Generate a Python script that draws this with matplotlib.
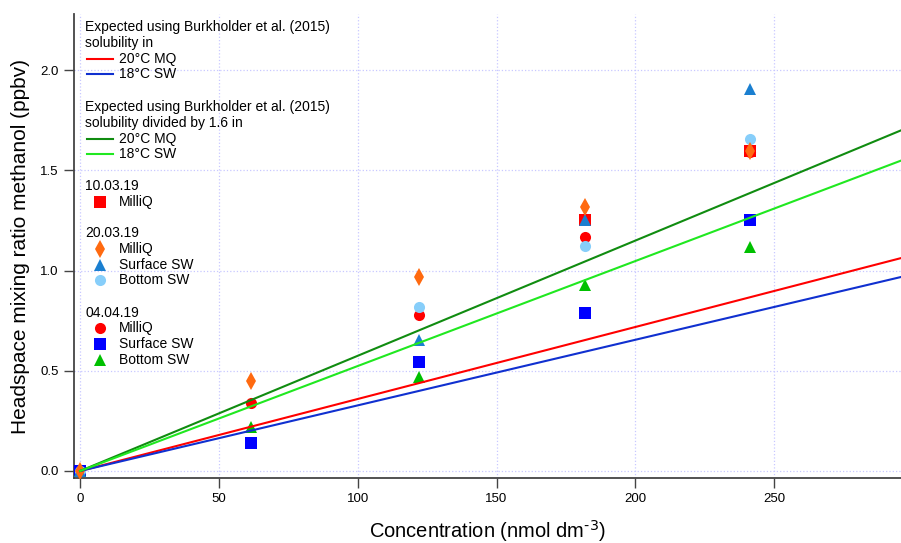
import numpy as np
import matplotlib
matplotlib.use("Agg")
import matplotlib.pyplot as plt
from matplotlib.lines import Line2D

plt.rcParams['font.family'] = ['Liberation Sans', 'DejaVu Sans']

# ---- data ----
conc = [0.0, 61.6, 122.0, 182.0, 241.4]
nan = np.nan

mq_1003 = [0.0, nan, nan, 1.252, 1.596]
mq_2003 = [0.0, 0.449, 0.966, 1.318, 1.596]
surf_2003 = [0.0, nan, 0.653, 1.252, 1.905]
bot_2003 = [0.0, nan, 0.816, 1.124, 1.656]
mq_0404 = [0.0, 0.341, 0.778, 1.168, 1.590]
surf_0404 = [0.0, 0.138, 0.545, 0.787, 1.252]
bot_0404 = [0.0, 0.218, 0.467, 0.928, 1.119]

# expected slopes (ppbv per nmol dm-3)
slope_mq20 = 0.003592
slope_sw18 = 0.003273
factor = 1.6

line_x = [0.0, 300.0]

fig = plt.figure(figsize=(9.01, 5.43), dpi=100)
L, R, T, B = 74, 901, 14, 478
W, H = 901, 543
ax = fig.add_axes([L / W, (H - B) / H, (R - L) / W, (B - T) / H])

ax.set_xlim(-2.2, 295.7)
ax.set_ylim(-0.035, 2.28)

# markers
ms = 8
dms = 9
ax.plot(conc, mq_1003, 's', color='#ff0000', ms=ms, mew=0, zorder=3)
ax.plot(conc, mq_0404, 'o', color='#ff0000', ms=ms, mew=0, zorder=3)
ax.plot(conc, surf_0404, 's', color='#0000ff', ms=ms, mew=0, zorder=3)
ax.plot(conc, bot_0404, '^', color='#00c000', ms=ms + 1, mew=0, zorder=3)
ax.plot(conc, bot_2003, 'o', color='#87cefa', ms=ms, mew=0, zorder=3)
ax.plot(conc, surf_2003, '^', color='#1a7fd0', ms=ms + 1, mew=0, zorder=3)
ax.plot(conc, mq_2003, 'd', color='#ff6a10', ms=dms, mew=0, zorder=3)

# lines
lx = np.array(line_x)
c_red, c_blue, c_dg, c_lg = '#ff0000', '#1030d0', '#108c10', '#20e820'
ax.plot(lx, slope_mq20 * lx, color=c_red, lw=1.5, zorder=4)
ax.plot(lx, slope_sw18 * lx, color=c_blue, lw=1.5, zorder=4)
ax.plot(lx, slope_mq20 * factor * lx, color=c_dg, lw=1.5, zorder=4)
ax.plot(lx, slope_sw18 * factor * lx, color=c_lg, lw=1.5, zorder=4)

# axes styling
for s in ['top', 'right']:
    ax.spines[s].set_visible(False)
for s in ['left', 'bottom']:
    ax.spines[s].set_color('#444444')
    ax.spines[s].set_linewidth(1.3)
ax.set_xticks([0, 50, 100, 150, 200, 250])
ax.set_yticks([0.0, 0.5, 1.0, 1.5, 2.0])
ax.set_yticklabels(['0.0', '0.5', '1.0', '1.5', '2.0'])
ax.tick_params(axis='both', direction='out', length=7, width=1.0, color='#444444',
               labelsize=9.5, pad=4)
ax.grid(True, color='#c8c8ff', linestyle=':', linewidth=0.9)
ax.set_axisbelow(True)

ax.set_xlabel('Concentration (nmol dm$^{\\text{-3}}$)', fontsize=14.5, labelpad=9)
ax.set_ylabel('Headspace mixing ratio methanol (ppbv)', fontsize=15, labelpad=7)

# ---- custom legend ----
def fx(px):
    return (px - L) / (R - L)

def fy(py):
    return (B - py) / (B - T)

tr = ax.transAxes
fs = 10
xh, xl0, xl1, xm, xt = 85, 87, 113, 100, 119

def head(py, txt):
    ax.text(fx(xh), fy(py), txt, transform=tr, fontsize=fs, va='center', ha='left', zorder=6)

def line_entry(py, color, txt):
    ax.add_line(Line2D([fx(xl0), fx(xl1)], [fy(py), fy(py)], transform=tr, color=color, lw=1.5, zorder=6))
    ax.text(fx(xt), fy(py), txt, transform=tr, fontsize=fs, va='center', ha='left', zorder=6)

def mark_entry(py, marker, color, size, txt):
    ax.add_line(Line2D([fx(xm)], [fy(py)], transform=tr, marker=marker, color=color,
                       ms=size, mew=0, linestyle='none', zorder=6))
    ax.text(fx(xt), fy(py), txt, transform=tr, fontsize=fs, va='center', ha='left', zorder=6)

head(27, 'Expected using Burkholder et al. (2015)')
head(43, 'solubility in')
line_entry(59, c_red, '20°C MQ')
line_entry(74, c_blue, '18°C SW')
head(107, 'Expected using Burkholder et al. (2015)')
head(123, 'solubility divided by 1.6 in')
line_entry(139, c_dg, '20°C MQ')
line_entry(154, c_lg, '18°C SW')
head(186, '10.03.19')
mark_entry(202, 's', '#ff0000', ms, 'MilliQ')
head(233, '20.03.19')
mark_entry(249, 'd', '#ff6a10', dms, 'MilliQ')
mark_entry(265, '^', '#1a7fd0', ms + 1, 'Surface SW')
mark_entry(280, 'o', '#87cefa', ms, 'Bottom SW')
head(313, '04.04.19')
mark_entry(328, 'o', '#ff0000', ms, 'MilliQ')
mark_entry(344, 's', '#0000ff', ms, 'Surface SW')
mark_entry(360, '^', '#00c000', ms + 1, 'Bottom SW')

fig.savefig('out.png', dpi=100)
